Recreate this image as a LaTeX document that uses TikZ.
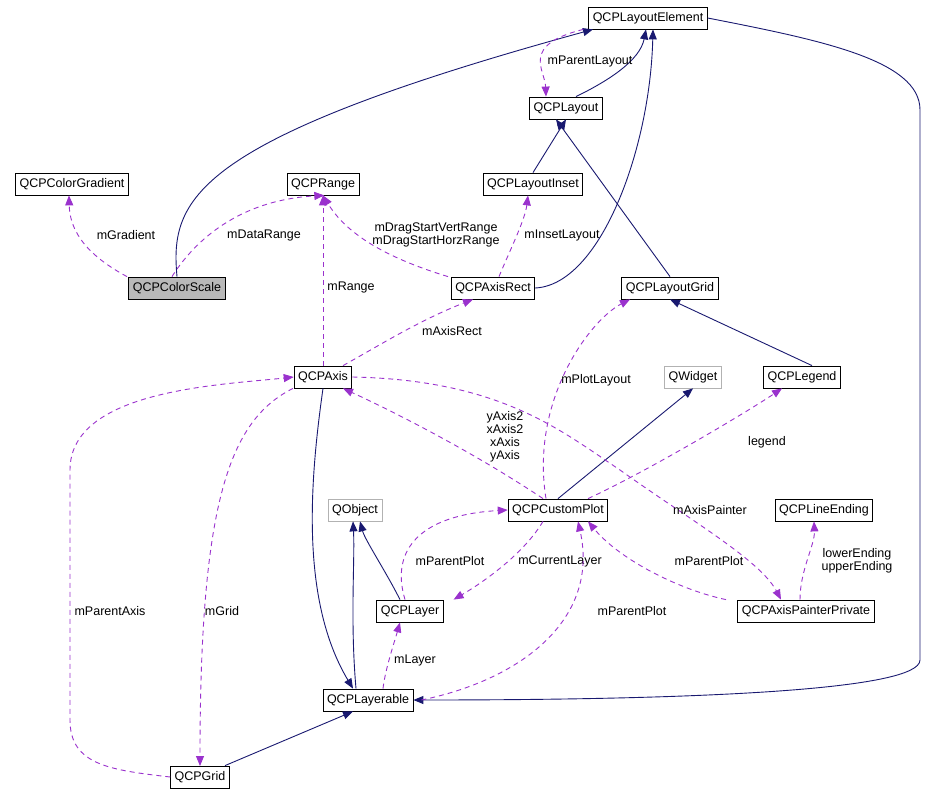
\documentclass[tikz,border=0pt]{standalone}
\usepackage{fontspec}
\setmainfont{Liberation Sans}
\usetikzlibrary{arrows.meta}
\definecolor{navy}{HTML}{191970}
\definecolor{usecol}{HTML}{9A32CD}
\begin{document}
\begin{tikzpicture}[x=1pt,y=-1pt,
font=\fontsize{12.5}{14}\selectfont,
cls/.style={draw,line width=0.8pt,minimum height=22pt,inner xsep=4pt,inner ysep=0pt},
ext/.style={cls,draw=gray!60},
inh/.style={navy,line width=0.9pt,-{Triangle[length=10pt,width=8pt]}},
use/.style={usecol,line width=0.9pt,dashed,dash pattern=on 5pt off 4pt,-{Triangle[length=10pt,width=8pt]}},
lbl/.style={align=center,inner sep=0pt,font=\fontsize{12.5}{13}\selectfont}]
\useasboundingbox (0,0) rectangle (928,799);
% classes
\node[cls] (elem) at (648,18) {QCPLayoutElement};
\node[cls] (layout) at (566,108) {QCPLayout};
\node[cls] (grad) at (72,184) {QCPColorGradient};
\node[cls] (range) at (323,184) {QCPRange};
\node[cls] (inset) at (533,184) {QCPLayoutInset};
\node[cls,fill=gray!55] (cscale) at (177,288) {QCPColorScale};
\node[cls] (arect) at (493,288) {QCPAxisRect};
\node[cls] (lgrid) at (670,288) {QCPLayoutGrid};
\node[cls] (axis) at (323,377) {QCPAxis};
\node[ext] (qwidget) at (693,377) {QWidget};
\node[cls] (legend) at (802,377) {QCPLegend};
\node[ext] (qobject) at (355,510) {QObject};
\node[cls] (cplot) at (558,510) {QCPCustomPlot};
\node[cls] (lend) at (824,510) {QCPLineEnding};
\node[cls] (layer) at (410,611) {QCPLayer};
\node[cls] (painter) at (806,611) {QCPAxisPainterPrivate};
\node[cls] (lable) at (368,700) {QCPLayerable};
\node[cls] (qgrid) at (200,777) {QCPGrid};

% inheritance
\draw[inh] (cscale.north) .. controls (170,200) and (190,140) .. ([xshift=-55pt]elem.south);
\draw[inh] ([xshift=10pt]layout.north) .. controls (610,80) and (640,60) .. ([xshift=-2pt]elem.south);
\draw[inh] (inset.north) -- (layout.south);
\draw[inh] (arect.east) .. controls (600,285) and (650,150) .. ([xshift=5pt]elem.south);
\draw[inh] (lgrid.north) -- ([xshift=-10pt]layout.south);
\draw[inh] ([xshift=10pt]legend.north) -- (lgrid.south);
\draw[inh] (cplot.north) -- (qwidget.south);
\draw[inh] ([xshift=-10pt]layer.north) .. controls (385,570) and (365,540) .. ([xshift=5pt]qobject.south);
\draw[inh] ([xshift=-12pt]lable.north) .. controls (350,620) and (355,560) .. ([xshift=-2pt]qobject.south);
\draw[inh] (axis.south) .. controls (310,480) and (300,600) .. ([xshift=-15pt]lable.north);
\draw[inh] ([xshift=25pt]qgrid.north) -- ([xshift=-15pt]lable.south);
\draw[inh] (elem.east) .. controls (820,40) and (920,60) .. (920,110) -- (920,660)
  .. controls (920,690) and (700,700) .. (lable.east);

% usage
\draw[use] ([xshift=-5pt]elem.south west) .. controls (520,45) and (545,70) .. ([xshift=-20pt]layout.north);
\node[lbl] (lParentLayout) at (590,62) {mParentLayout};
\draw[use] ([xshift=-50pt]cscale.north) .. controls (100,262) and (70,240) .. ([xshift=-3pt]grad.south);
\node[lbl] (lGradient) at (126,235) {mGradient};
\draw[use] ([xshift=-5pt]cscale.north) .. controls (195,240) and (240,200) .. ([xshift=-35pt]range.south east);
\node[lbl] (lDataRange) at (264,235) {mDataRange};
\draw[use] ([xshift=-45pt]arect.north) .. controls (400,262) and (350,240) .. (range.south);
\node[lbl] (lDrag) at (436,235) {mDragStartVertRange\\mDragStartHorzRange};
\draw[use] ([xshift=6pt]arect.north) .. controls (510,250) and (525,220) .. ([xshift=-5pt]inset.south);
\node[lbl] (lInset) at (562,235) {mInsetLayout};
\draw[use] (axis.north) -- (range.south);
\node[lbl] (lRange) at (351,287) {mRange};
\draw[use] ([xshift=20pt]axis.north) .. controls (380,345) and (420,320) .. ([xshift=-20pt]arect.south);
\node[lbl] (lAxisRect) at (452,331) {mAxisRect};
\draw[use] ([xshift=-12pt]cplot.north) .. controls (530,400) and (590,320) .. ([xshift=-40pt]lgrid.south);
\node[lbl] (lPlotLayout) at (596,380) {mPlotLayout};
\draw[use] ([xshift=-15pt]cplot.north) .. controls (470,450) and (390,410) .. ([xshift=20pt]axis.south);
\node[lbl] (lAxes) at (505,437) {yAxis2\\xAxis2\\xAxis\\yAxis};
\draw[use] ([xshift=30pt]cplot.north) .. controls (650,470) and (750,410) .. ([xshift=-20pt]legend.south);
\node[lbl] (lLegend) at (767,442) {legend};
\draw[use] (axis.east) .. controls (500,380) and (560,430) .. (620,470)
  .. controls (690,520) and (760,560) .. ([xshift=-25pt]painter.north);
\node[lbl] (lAxisPainter) at (710,510) {mAxisPainter};
\draw[use] ([xshift=-6pt]painter.north) .. controls (800,570) and (815,545) .. ([xshift=-10pt]lend.south);
\node[lbl] (lEnding) at (857,561) {lowerEnding\\upperEnding};
\draw[use] ([xshift=-80pt]painter.north) .. controls (680,590) and (620,560) .. ([xshift=30pt]cplot.south);
\node[lbl] (lPlotPainter) at (709,561) {mParentPlot};
\draw[use] ([xshift=-5pt]layer.north) .. controls (390,550) and (420,515) .. (cplot.west);
\node[lbl] (lPlotLayer) at (450,561) {mParentPlot};
\draw[use] ([xshift=-15pt]cplot.south) .. controls (520,560) and (470,590) .. ([xshift=10pt]layer.north east);
\node[lbl] (lCurLayer) at (560,561) {mCurrentLayer};
\draw[use] ([xshift=8pt]lable.east) .. controls (520,680) and (600,620) .. ([xshift=20pt]cplot.south);
\node[lbl] (lPlotLable) at (632,611) {mParentPlot};
\draw[use] ([xshift=15pt]lable.north) .. controls (385,670) and (395,640) .. ([xshift=-10pt]layer.south);
\node[lbl] (lLayer) at (415,660) {mLayer};
\draw[use] ([xshift=-30pt]axis.south) .. controls (230,420) and (200,500) .. (200,766);
\node[lbl] (lGrid) at (222,611) {mGrid};
\draw[use] (qgrid.west) .. controls (110,770) and (70,765) .. (70,720) -- (70,470)
  .. controls (70,390) and (220,385) .. (axis.west);
\node[lbl] (lParentAxis) at (110,611) {mParentAxis};
\end{tikzpicture}
\end{document}
